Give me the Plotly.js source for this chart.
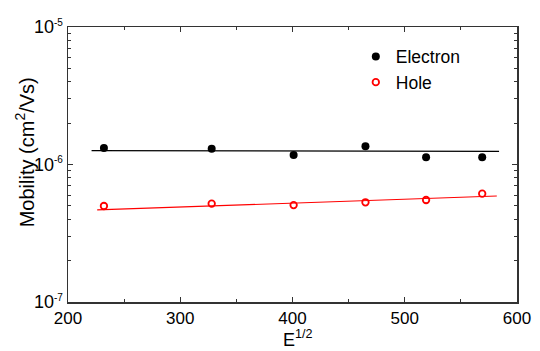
<!DOCTYPE html>
<html>
<head>
<meta charset="utf-8">
<script src="https://cdn.plot.ly/plotly-3.0.1.min.js"></script>
<style>html,body{margin:0;padding:0;background:#fff;}#chart{width:540px;height:351px;}</style>
</head>
<body>
<div id="chart"></div>
<script>
// Data
var fieldX = [232, 328, 401, 465, 519, 569];
var electronMobility = [1.32e-6, 1.30e-6, 1.17e-6, 1.36e-6, 1.13e-6, 1.13e-6];
var holeMobility = [4.99e-7, 5.19e-7, 5.07e-7, 5.31e-7, 5.52e-7, 6.14e-7];
var electronFitX = [221, 584];
var electronFitY = [1.26e-6, 1.247e-6];
var holeFitX = [226, 582];
var holeFitY = [4.67e-7, 5.90e-7];
var seriesNames = ['Electron', 'Hole'];
var yTickVals = [1e-7, 1e-6, 1e-5];
var yTickExp = ['-7', '-6', '-5'];
var xTitle = 'E<sup>1/2</sup>';
var yTitle = 'Mobility (cm<sup>2</sup>/Vs)';

var FONT = '"Liberation Sans", Arial, sans-serif';
var AX = '#333333';

var yTickText = yTickExp.map(function (e) {
  return '10<sup><span style="font-size:10px">' + e + '</span></sup>';
});

var traces = [
  {x: electronFitX, y: electronFitY, mode: 'lines', line: {color: '#000000', width: 1.2}, showlegend: false, hoverinfo: 'skip'},
  {x: holeFitX, y: holeFitY, mode: 'lines', line: {color: '#ff0000', width: 1.2}, showlegend: false, hoverinfo: 'skip'},
  {x: fieldX, y: electronMobility, mode: 'markers', name: seriesNames[0],
   marker: {symbol: 'circle', size: 8, color: '#000000', line: {width: 0}}},
  {x: fieldX, y: holeMobility, mode: 'markers', name: seriesNames[1],
   marker: {symbol: 'circle-open', size: 6.5, color: '#ff0000', line: {width: 1.8, color: '#ff0000'}}}
];

var layout = {
  width: 540, height: 351,
  margin: {l: 68, r: 23, t: 27, b: 49},
  paper_bgcolor: '#ffffff', plot_bgcolor: '#ffffff',
  font: {family: FONT, size: 17, color: '#000000'},
  showlegend: true,
  legend: {x: 0.641, y: 0.958, xanchor: 'left', yanchor: 'top', bgcolor: 'rgba(0,0,0,0)',
           font: {family: FONT, size: 17.5, color: '#000000'}, tracegroupgap: 0},
  xaxis: {
    range: [200, 600], dtick: 100, tick0: 200,
    showgrid: false, zeroline: false,
    showline: true, linecolor: AX, linewidth: 1.5, mirror: 'ticks',
    ticks: 'inside', ticklen: 5, tickwidth: 1.2, tickcolor: AX,
    minor: {ticks: 'inside', dtick: 50, ticklen: 3, tickwidth: 1, tickcolor: AX, showgrid: false},
    tickfont: {family: FONT, size: 17, color: '#000000'},
    automargin: false
  },
  yaxis: {
    type: 'log', range: [-7, -5],
    tickmode: 'array', tickvals: yTickVals, ticktext: yTickText,
    showgrid: false, zeroline: false,
    showline: true, linecolor: AX, linewidth: 1.5, mirror: 'ticks',
    ticks: 'inside', ticklen: 5, tickwidth: 1.2, tickcolor: AX,
    minor: {ticks: 'inside', dtick: 'D1', ticklen: 3, tickwidth: 1, tickcolor: AX, showgrid: false},
    tickfont: {family: FONT, size: 18, color: '#000000'},
    automargin: false
  },
  annotations: [
    {text: xTitle, xref: 'paper', yref: 'paper', x: 0.512, y: -0.132, xanchor: 'center', yanchor: 'middle',
     showarrow: false, font: {family: FONT, size: 18, color: '#000000'}},
    {text: yTitle, xref: 'paper', yref: 'paper', x: -0.096, y: 0.544, xanchor: 'center', yanchor: 'middle',
     textangle: -90, showarrow: false, font: {family: FONT, size: 20, color: '#000000'}}
  ]
};

Plotly.newPlot('chart', traces, layout, {displayModeBar: false, staticPlot: true});
</script>
</body>
</html>
